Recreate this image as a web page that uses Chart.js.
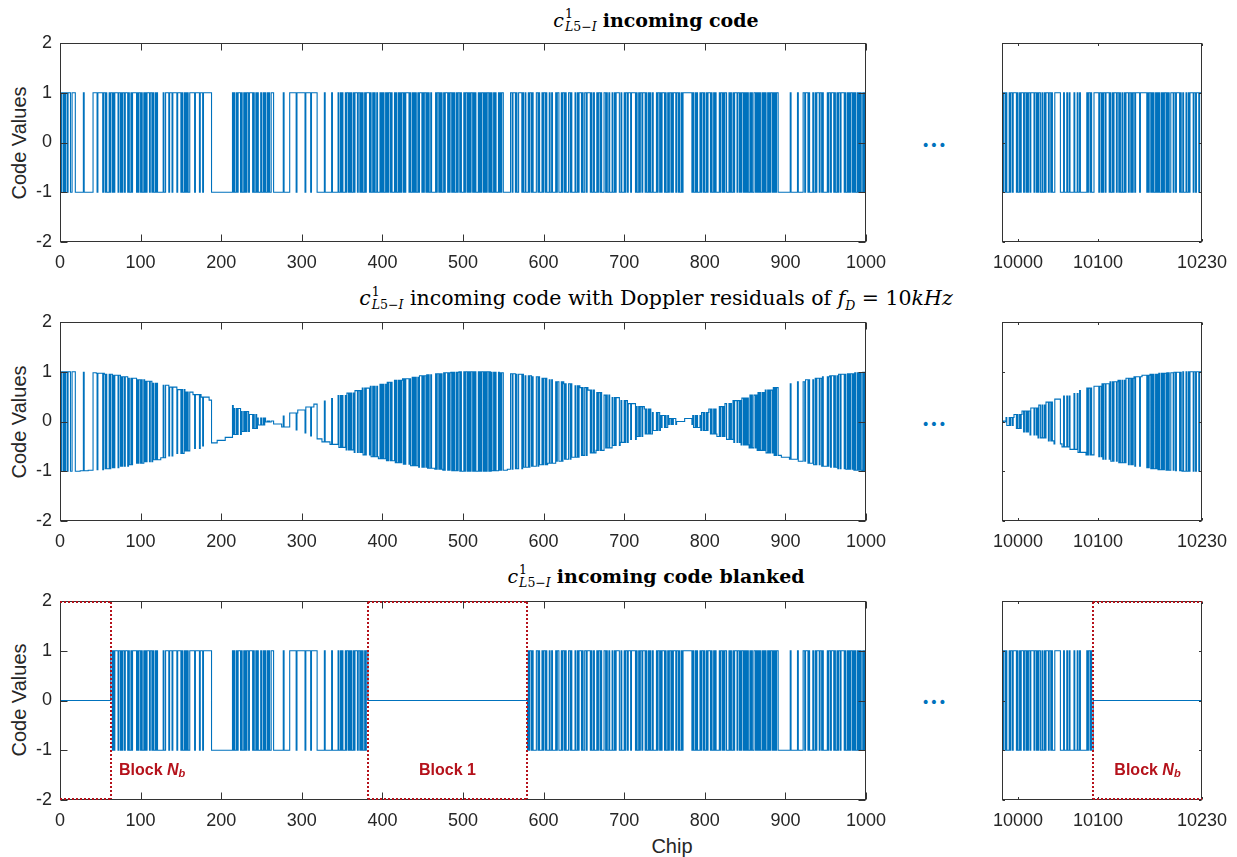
<!DOCTYPE html>
<html>
<head>
    <title>L5-I incoming code</title>
    <style>
        body { margin: 0; width: 1237px; height: 857px; position: relative; overflow: hidden; background: #fff;
               font-family: "Liberation Sans", Arial, sans-serif; }
        canvas { position: absolute; }
        .ttl { position: absolute; left: 656px; transform: translateX(-50%); white-space: nowrap;
               font-family: "DejaVu Serif", serif; font-size: 20.5px; line-height: 22px; color: #000; }
        .ttl b { font-weight: bold; font-size: 19px; }
        .ss { display: inline-block; vertical-align: -0.3em; font-size: 12.5px; line-height: 1; margin-left: 1px; }
        .ss span { display: block; }
        .ylab { position: absolute; left: 19px; font-size: 20px; color: #262626; white-space: nowrap;
                transform: translate(-50%, -50%) rotate(-90deg); }
        .xlab { position: absolute; font-size: 20px; color: #262626; transform: translate(-50%, -50%); }
        .dots { position: absolute; left: 934px; font-family: "DejaVu Sans", sans-serif; font-size: 14px;
                line-height: 1; color: #0072BD; transform: translate(-50%, -50%); }
    </style>
    <script src="https://cdn.jsdelivr.net/npm/chart.js"></script>
</head>
<body>

<div class="ttl" style="top:8px; font-size:19px"><i>c</i><span class="ss"><span>1</span><span><i>L</i>5−<i>I</i></span></span> <b>incoming code</b></div>
<div class="ttl" style="top:286px"><i>c</i><span class="ss"><span>1</span><span><i>L</i>5−<i>I</i></span></span> incoming code with Doppler residuals of <i>f</i><sub style="font-size:12.5px"><i>D</i></sub> = 10<i>kHz</i></div>
<div class="ttl" style="top:564px; font-size:19px"><i>c</i><span class="ss"><span>1</span><span><i>L</i>5−<i>I</i></span></span> <b>incoming code blanked</b></div>

<div class="ylab" style="top:143px">Code Values</div>
<div class="ylab" style="top:422px">Code Values</div>
<div class="ylab" style="top:700px">Code Values</div>
<div class="xlab" style="left:672px; top:846px">Chip</div>
<div class="dots" style="top:145px">•••</div>
<div class="dots" style="top:424px">•••</div>
<div class="dots" style="top:702px">•••</div>

<script>
    // ---- axes ----
    const xTicksLeft = [0, 100, 200, 300, 400, 500, 600, 700, 800, 900, 1000];
    const xTicksRight = [10000, 10100, 10230];
    const yTicks = [-2, -1, 0, 1, 2];
    const leftRange = [0, 1000];
    const rightRange = [9980, 10230];

    // ---- code chips, as run lengths per 100-chip block (sign alternates inside a block) ----
    const chipRuns0 = [1,1,2,1,1,1,2,1, 3,2,4, 10,1,11, 5,1,6, 1,2,1,1,3, 1,1,2,1,1, 1,4,1,2,1, 1,1,2,1,3, 1,1,2,1,1, 5,1,1,1,2];
    const chipRuns1 = [1,1,2,1,1, 1,1,3,1,2, 1,1,2,1,1,1, 7, 1,2, 4,1,3,1,5,1,4, 1,1,2,1,1,1,1,1,2, 6,1,5,1,3,1,10, 12];
    const chipRuns2 = [14, 1,1,1,2,1, 1,3,1,1,2, 1,1,1,1,2, 1,4,1,1,2, 1,1,1,3,1, 2,1,1,1,2, 1,1,1,2, 3, 12,1,7, 8,1,6];
    const chipRuns3 = [4,1,6,1,7, 9,1,8,1,7, 1,2,1,1,1, 3,1,1,2,1, 1,1,1,2,1, 1,3,1,2,1, 1,1,1,2,1, 1,4,1,1,2, 1,1,1,2,1, 3,1,1,1];
    const chipRuns4 = [1,1,2,1,1, 1,1,2,1,1, 3,1,1,1,2, 1,1,1,1,2, 1,1,1,4,1, 1,2,1,1,1, 1,1,2,1,1, 3,1,1,1,2, 1,1,1,1,2, 1,5,1,1,2, 1,1,1,1,2, 1,1,3,1,1, 1,2,1,1,1, 1,2,1,1, 2,1,1,2];
    const chipRuns5 = [1,1,1,2,1, 1,1,1,1,2, 1,1,1,1,3, 1,1,1,1,2, 1,1,1,1,1, 2,1,1,1,1, 2,1,1,1,3, 1,1,1,1,2, 9, 2,1,3,1,1, 2,4,1,1,2, 1,3,1,1,2, 1,1,4,2,1, 1,3,1,1];
    const chipRuns6 = [2,1,1,3,1, 2,1,4,1,1, 2,3,1,1,2, 1,1,3,2,1, 1,4,1,2,1, 1,3,1,1,2, 2,1,4,1,1, 2,1,3,1,1, 2,1,1,3,2, 1,1,2,1,3, 1,2,1,1,4,2,1,3];
    const chipRuns7 = [1,1,2,1,3, 1,5,1,1,2, 1,1,2,1,3, 1,1,2,1,1, 1,2,1,4,1, 1,2,1,1,1, 3,1,1,2,1, 1,2,1,1,1, 3,1, 2,1,1,2,1,1, 11, 1,1,2,1,1,1,3,1,1,2,1,1];
    const chipRuns8 = [2,1,1,3,1, 1,2,1,1,1, 4,1,1,2,1, 1,1,2,3,1, 1,1,2,1,1, 3,1,2,1,1, 1,2,1,1, 1,1,1,1,2, 1,1,1,2, 2,1,1,1,1, 1,1,2,1,1, 1,1,1,2,1, 1,1,1,2,1, 1,1,1,1,2, 9];
    const chipRuns9 = [6,1,8,1,6, 2,1,3,1,1, 4,1,2,1,1, 3,1,2,1,1, 5,1,1,2,1, 3,1,1,2,1, 1,2,1,4,1, 1,2,1,1,1, 1,2,1,1,1, 1,2,1,1,1, 1,1,2,1,1, 1,1];
    const leftStartSigns = [1, -1, -1, 1, -1, -1, 1, 1, -1, -1];

    // chips 9980..10229, 50-chip blocks
    const chipRunsR0 = [1,1,2,1,1, 3,1,1,2,1, 4,1,1,2,1, 1,3,1,2,1, 1,1,2,1,4, 1,2,1,1,1, 2,2];
    const chipRunsR1 = [1,2,1,1,3, 1,2,1,1,3, 7, 4,1,3,1,2, 1,5,1,3,1, 2,1,2];
    const chipRunsR2 = [6,1,1,2,1,1,3, 6, 1,2,1,1,1,2,1,4, 1,1,2,1,1,3,1,2,1,1, 2];
    const chipRunsR3 = [1,2,1,1,3,1,2,1,1,1,2,1, 5,1,8, 1,1,1,2,1,1,1,1,2,1,1,1,1,1,2,1];
    const chipRunsR4 = [1,1,1,2,1, 1,1,1,2,3, 1,2,1,4,1, 1,2,1,3,1, 2,1,1,4,1, 2,1,3,1, 3];
    const rightStartSigns = [1, 1, -1, 1, -1];

    // Doppler envelope magnitude read every 10 chips
    const envLeft = [1.00,1.00,1.00,0.99,0.98,0.97,0.95,0.93,0.90,0.87,
                     0.84,0.81,0.77,0.73,0.69,0.64,0.59,0.54,0.49,0.43,
                     0.38,0.32,0.26,0.20,0.14,0.07,0.01,0.05,0.11,0.17,
                     0.23,0.29,0.35,0.41,0.46,0.52,0.57,0.62,0.67,0.71,
                     0.75,0.79,0.83,0.86,0.89,0.92,0.94,0.96,0.98,0.99,
                     1.00,1.00,1.00,1.00,0.99,0.98,0.96,0.95,0.92,0.90,
                     0.87,0.84,0.80,0.76,0.72,0.68,0.63,0.58,0.53,0.48,
                     0.42,0.36,0.30,0.25,0.18,0.12,0.06,0.00,0.06,0.12,
                     0.18,0.25,0.30,0.36,0.42,0.47,0.53,0.58,0.63,0.68,
                     0.72,0.76,0.80,0.84,0.87,0.90,0.92,0.95,0.96,0.98,
                     0.99];
    const envRight = [0.01,0.08,0.14,0.21,0.27,0.33,0.39,0.45,0.51,0.56,
                      0.62,0.67,0.71,0.76,0.80,0.83,0.87,0.90,0.93,0.95,
                      0.97,0.98,0.99,1.00,1.00,1.00];

    // blanked chip ranges [start, end)
    const blankBlocks = [[0, 63], [382, 580], [10094, 10230]];
    const blockNames = ['Nb', '1', 'Nb'];

    // ---- build chip sequences ----
    function expandRuns(blocks, signs, blockLen) {
        const out = [];
        blocks.forEach((runs, b) => {
            const seg = [];
            let s = signs[b];
            runs.forEach(r => { for (let i = 0; i < r; i++) seg.push(s); s = -s; });
            while (seg.length < blockLen) seg.push(seg[seg.length - 1]);
            seg.length = blockLen;
            out.push(...seg);
        });
        return out;
    }

    const codeLeft = expandRuns([chipRuns0, chipRuns1, chipRuns2, chipRuns3, chipRuns4,
                                 chipRuns5, chipRuns6, chipRuns7, chipRuns8, chipRuns9], leftStartSigns, 100);
    const codeRight = expandRuns([chipRunsR0, chipRunsR1, chipRunsR2, chipRunsR3, chipRunsR4], rightStartSigns, 50);

    function doppler(code, env) {
        return code.map((c, i) => c * env[Math.min(env.length - 1, Math.round((i + 0.5) / 10))]);
    }
    function blanked(code, x0) {
        return code.map((c, i) => blankBlocks.some(b => x0 + i >= b[0] && x0 + i < b[1]) ? 0 : c);
    }
    function toPoints(vals, x0) {
        const pts = [];
        vals.forEach((v, i) => { if (i === 0 || v !== vals[i - 1]) pts.push({x: x0 + i, y: v}); });
        pts.push({x: x0 + vals.length, y: vals[vals.length - 1]});
        return pts;
    }

    // ---- MATLAB-like box, inward ticks, blanking boxes ----
    const RED = '#B5121B';
    function drawBlockLabel(ctx, name, x, y, align) {
        const parts = name === 'Nb'
            ? [['Block ', 'bold 16px "Liberation Sans"', 0], ['N', 'italic bold 16px "Liberation Sans"', 0], ['b', 'italic bold 11px "Liberation Sans"', 4]]
            : [['Block ' + name, 'bold 16px "Liberation Sans"', 0]];
        let total = 0;
        parts.forEach(p => { ctx.font = p[1]; total += ctx.measureText(p[0]).width; });
        let cx = align === 'left' ? x : x - total / 2;
        ctx.textAlign = 'left';
        ctx.textBaseline = 'middle';
        ctx.fillStyle = RED;
        parts.forEach(p => { ctx.font = p[1]; ctx.fillText(p[0], cx, y + p[2]); cx += ctx.measureText(p[0]).width; });
    }

    const framePlugin = {
        id: 'frame',
        afterDraw(chart, args, o) {
            const {ctx, chartArea: a, scales: {x, y}} = chart;
            const L = Math.round(a.left) + 0.5, R = Math.round(a.right) - 0.5;
            const T = Math.round(a.top) + 0.5, B = Math.round(a.bottom) - 0.5;
            ctx.save();
            ctx.strokeStyle = '#333';
            ctx.lineWidth = 1;
            ctx.strokeRect(L, T, R - L, B - T);
            ctx.beginPath();
            o.xTicks.forEach(v => {
                const px = Math.round(x.getPixelForValue(v)) + 0.5;
                ctx.moveTo(px, B); ctx.lineTo(px, B - o.tickLen);
                ctx.moveTo(px, T); ctx.lineTo(px, T + o.tickLen);
            });
            yTicks.forEach(v => {
                const py = Math.round(y.getPixelForValue(v)) + 0.5;
                ctx.moveTo(L, py); ctx.lineTo(L + o.tickLen, py);
                ctx.moveTo(R, py); ctx.lineTo(R - o.tickLen, py);
            });
            ctx.stroke();

            if (o.blank) {
                ctx.strokeStyle = RED;
                ctx.lineWidth = 2;
                ctx.setLineDash([2, 2]);
                const yt = Math.round(y.getPixelForValue(2)) + 1, yb = Math.round(y.getPixelForValue(-2)) - 1;
                blankBlocks.forEach((b, k) => {
                    const s = Math.max(b[0], x.min), e = Math.min(b[1], x.max);
                    if (e <= s) return;
                    const x0 = Math.round(x.getPixelForValue(s)), x1 = Math.round(x.getPixelForValue(e));
                    ctx.beginPath();
                    ctx.moveTo(x0, yt); ctx.lineTo(x1, yt);
                    ctx.moveTo(x0, yb); ctx.lineTo(x1, yb);
                    if (s > x.min) { ctx.moveTo(x0, yt); ctx.lineTo(x0, yb); }
                    if (e < x.max) { ctx.moveTo(x1, yt); ctx.lineTo(x1, yb); }
                    ctx.stroke();
                    const ly = y.getPixelForValue(-1.4);
                    if (b[0] === 0) drawBlockLabel(ctx, blockNames[k], x1 + 8, ly, 'left');
                    else drawBlockLabel(ctx, blockNames[k], (x0 + x1) / 2, ly, 'center');
                });
                ctx.setLineDash([]);
            }
            ctx.restore();
        }
    };

    // ---- panels ----
    const rowTops = [43, 322, 601];
    const plotH = 199;
    const padTop = 24;

    function makePanel(left, top, width, pad, range, xTicks, showY, points, tickLen, blank) {
        const cv = document.createElement('canvas');
        const height = padTop + plotH + 40;
        cv.width = width; cv.height = height;
        cv.style.left = left + 'px'; cv.style.top = (top - padTop) + 'px';
        document.body.appendChild(cv);
        new Chart(cv.getContext('2d'), {
            type: 'line',
            data: { datasets: [{
                data: points,
                borderColor: '#0072BD',
                borderWidth: 1.1,
                pointRadius: 0,
                stepped: true,
                fill: false
            }] },
            options: {
                responsive: false,
                animation: false,
                events: [],
                layout: { padding: { left: pad.left, right: pad.right, top: padTop, bottom: 0 } },
                plugins: {
                    legend: { display: false },
                    tooltip: { enabled: false },
                    frame: { xTicks: xTicks, tickLen: tickLen, blank: blank }
                },
                scales: {
                    x: {
                        type: 'linear', min: range[0], max: range[1],
                        grid: { display: false, drawTicks: false },
                        border: { display: false },
                        afterBuildTicks: s => { s.ticks = xTicks.map(v => ({value: v})); },
                        afterFit: s => { s.height = 40; },
                        ticks: { padding: 10, color: '#262626', font: { size: 18, family: '"Liberation Sans", Arial' },
                                 maxRotation: 0, autoSkip: false, callback: v => String(v) }
                    },
                    y: {
                        min: -2, max: 2,
                        grid: { display: false, drawTicks: false },
                        border: { display: false },
                        afterBuildTicks: s => { s.ticks = yTicks.map(v => ({value: v})); },
                        afterFit: s => { s.width = showY ? 60 : 0; },
                        ticks: { display: showY, padding: 8, color: '#262626', font: { size: 18, family: '"Liberation Sans", Arial' },
                                 callback: v => String(v) }
                    }
                }
            },
            plugins: [framePlugin]
        });
    }

    const rowsLeft = [codeLeft, doppler(codeLeft, envLeft), blanked(codeLeft, leftRange[0])];
    const rowsRight = [codeRight, doppler(codeRight, envRight), blanked(codeRight, rightRange[0])];

    rowTops.forEach((top, r) => {
        makePanel(0, top, 910, {left: 0, right: 44}, leftRange, xTicksLeft, true,
                  toPoints(rowsLeft[r], leftRange[0]), 7, r === 2);
        makePanel(972, top, 267, {left: 30, right: 37}, rightRange, xTicksRight, false,
                  toPoints(rowsRight[r], rightRange[0]), 2.5, r === 2);
    });
</script>

</body>
</html>
